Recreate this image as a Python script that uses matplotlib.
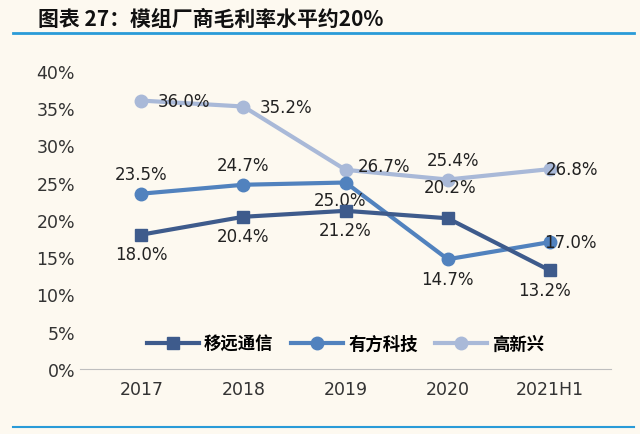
import matplotlib
matplotlib.use("Agg")
import matplotlib.pyplot as plt

plt.rcParams['font.family'] = ['Noto Sans CJK SC', 'DejaVu Sans']

categories = ["2017", "2018", "2019", "2020", "2021H1"]
yiyuan = [18.0, 20.4, 21.2, 20.2, 13.2]
youfang = [23.5, 24.7, 25.0, 14.7, 17.0]
gaoxin = [36.0, 35.2, 26.7, 25.4, 26.8]
names = ["移远通信", "有方科技", "高新兴"]

bg = "#FDF9F0"
fig = plt.figure(figsize=(6.4, 4.35), dpi=100, facecolor=bg)
ax = fig.add_axes([0.125, 0.15, 0.83, 0.685], facecolor=bg)
x = list(range(len(categories)))
c1, c2, c3 = "#3E5B8C", "#5182BE", "#A9B9D8"
ax.plot(x, gaoxin, color=c3, lw=3, marker='o', ms=9, label=names[2], zorder=2)
ax.plot(x, youfang, color=c2, lw=3, marker='o', ms=9, label=names[1], zorder=3)
ax.plot(x, yiyuan, color=c1, lw=3, marker='s', ms=8, label=names[0], zorder=4)

fs = 12
def lab(xi, v, dx, dy):
    ax.text(xi + dx, v + dy, f"{v:.1f}%", fontsize=fs, ha='center', va='center', color='#222222', family='DejaVu Sans')
for i, v in enumerate(yiyuan):
    dy = [-2.6, -2.6, -2.6, 4.2, -2.6][i]
    dx = [0, 0, 0, 0.02, -0.05][i]
    lab(i, v, dx, dy)
for i, v in enumerate(youfang):
    dy = [2.6, 2.6, -2.4, -2.6, 0][i]
    dx = [0, 0, -0.05, 0, 0.2][i]
    lab(i, v, dx, dy)
for i, v in enumerate(gaoxin):
    dy = [0, 0, 0.5, 2.6, 0][i]
    dx = [0.42, 0.42, 0.38, 0.05, 0.22][i]
    lab(i, v, dx, dy)

ax.set_ylim(0, 40)
ax.set_xlim(-0.6, 4.6)
ax.set_yticks(range(0, 41, 5))
ax.set_yticklabels([f"{t}%" for t in range(0, 41, 5)], family='DejaVu Sans')
ax.set_xticks(x)
ax.set_xticklabels(categories, family='DejaVu Sans')
ax.tick_params(labelsize=12.5, length=0, colors='#333333')
ax.tick_params(axis='x', pad=8)
for s in ['top', 'right', 'left']:
    ax.spines[s].set_visible(False)
ax.spines['bottom'].set_color('#BFBFBF')

h, l = ax.get_legend_handles_labels()
order = [2, 1, 0]
ax.legend([h[i] for i in order], [l[i] for i in order], loc='lower center', bbox_to_anchor=(0.5, 0.0),
          ncol=3, frameon=False, fontsize=12.5, handlelength=3, columnspacing=1.0, handletextpad=0.3,
          prop={'weight': 'bold', 'size': 12.5})

fig.text(0.06, 0.955, "图表 27：模组厂商毛利率水平约20%", fontsize=15, fontweight='bold', style='italic',
         color='#111111', va='center')
fig.add_artist(plt.Line2D([0.02, 0.99], [0.922, 0.922], color='#2A9BD8', lw=2))
fig.add_artist(plt.Line2D([0.02, 0.99], [0.015, 0.015], color='#2A9BD8', lw=1.5))
fig.savefig("out.png", dpi=100, facecolor=bg)
